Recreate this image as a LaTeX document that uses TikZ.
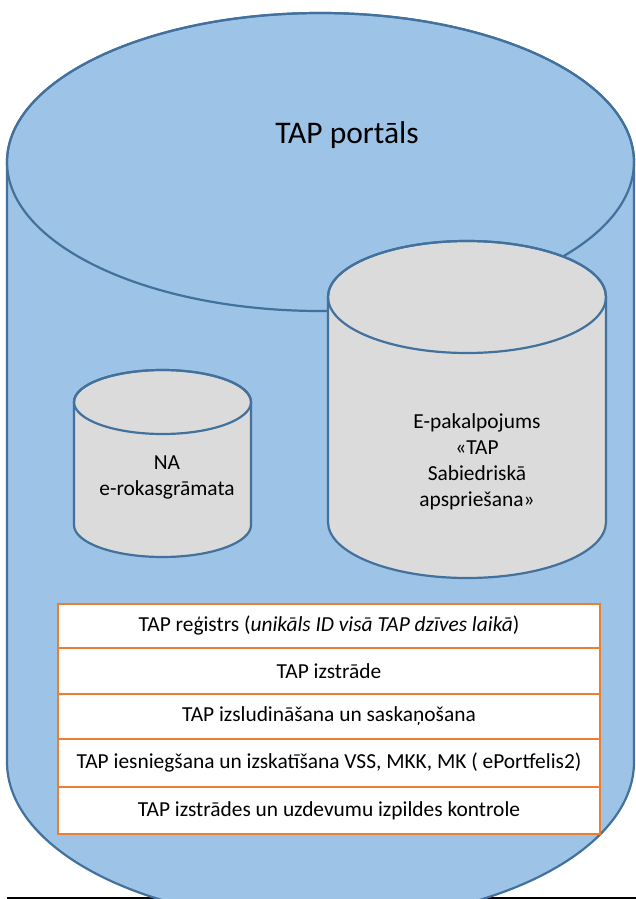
\documentclass[tikz,border=0pt]{standalone}
\usepackage{fontspec}
\setmainfont{Carlito}
\definecolor{cylblue}{HTML}{9DC3E6}
\definecolor{cylline}{HTML}{41719C}
\definecolor{cylgray}{HTML}{DBDBDB}
\definecolor{boxorange}{HTML}{ED7D31}
\tikzset{
  cylbody/.style={draw=cylline, line width=2.2pt, line join=round},
  rowbox/.style={draw=boxorange, fill=white, line width=2pt, minimum width=542pt, anchor=north west, inner sep=0pt, font=\fontsize{21.4}{26}\selectfont},
  cyltext/.style={align=center, font=\fontsize{21.4}{26}\selectfont, inner sep=0pt},
}
\begin{document}
\begin{tikzpicture}[x=1pt,y=1pt]
\useasboundingbox (0,0) rectangle (636,-899);
% base line
\coordinate (bl) at (7,-898);
\coordinate (br) at (636,-898);
\draw[black, line width=1.3pt] (bl) -- (br);
% big cylinder
\path[cylbody, fill=cylblue] (7,-162) -- (7,-762) arc[start angle=180, end angle=360, x radius=313.5, y radius=160] -- (634,-162) arc[start angle=0, end angle=180, x radius=313.5, y radius=149] -- cycle;
\draw[cylbody] (320.5,-162) ellipse[x radius=313.5, y radius=149];
\node[font=\fontsize{31.5}{38}\selectfont, inner sep=0pt] (portal) at (347,-135) {TAP portāls};
% right cylinder
\path[cylbody, fill=cylgray] (328,-297) -- (328,-522) arc[start angle=180, end angle=360, x radius=139, y radius=56] -- (606,-297) arc[start angle=0, end angle=180, x radius=139, y radius=56] -- cycle;
\draw[cylbody] (467,-297) ellipse[x radius=139, y radius=56];
\node[cyltext] (epak) at (477,-462) {E-pakalpojums\\«TAP\\Sabiedriskā\\apspriešana»};
% left cylinder
\path[cylbody, fill=cylgray] (74,-402) -- (74,-525) arc[start angle=180, end angle=360, x radius=88.5, y radius=32] -- (251,-402) arc[start angle=0, end angle=180, x radius=88.5, y radius=32] -- cycle;
\draw[cylbody] (162.5,-402) ellipse[x radius=88.5, y radius=32];
\node[cyltext] (na) at (167,-477) {NA\\e-rokasgrāmata};
% rows
\node[rowbox, minimum height=44pt] (r1) at (57,-603) {TAP reģistrs (\textit{unikāls ID visā TAP dzīves laikā})};
\node[rowbox, minimum height=46pt] (r2) at (57,-647) {TAP izstrāde};
\node[rowbox, minimum height=45pt] (r3) at (57,-693) {TAP izsludināšana un saskaņošana};
\node[rowbox, minimum height=48pt] (r4) at (57,-738) {TAP iesniegšana un izskatīšana VSS, MKK, MK ( ePortfelis2)};
\node[rowbox, minimum height=47pt] (r5) at (57,-786) {TAP izstrādes un uzdevumu izpildes kontrole};
\end{tikzpicture}
\end{document}
